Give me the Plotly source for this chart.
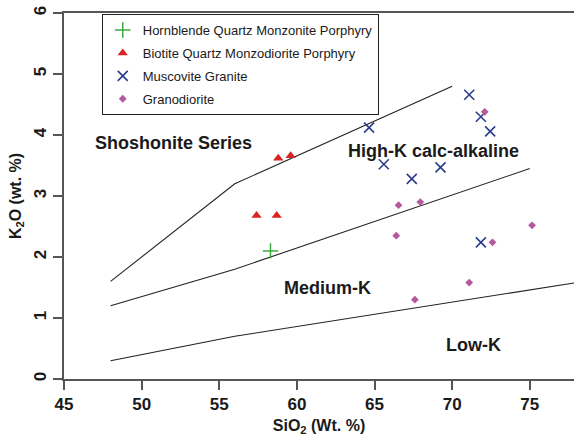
import plotly.graph_objects as go

# ---- data ----
hbl_sio2 = [58.3]
hbl_k2o = [2.10]

bt_sio2 = [57.4, 58.7, 58.8, 59.6]
bt_k2o = [2.68, 2.68, 3.62, 3.66]

ms_sio2 = [71.1, 71.85, 72.45, 64.65, 65.6, 67.4, 69.25, 71.85]
ms_k2o = [4.66, 4.30, 4.06, 4.12, 3.52, 3.28, 3.47, 2.24]

gd_sio2 = [72.1, 66.55, 67.95, 66.4, 75.15, 72.6, 71.1, 67.6]
gd_k2o = [4.38, 2.85, 2.90, 2.35, 2.52, 2.24, 1.58, 1.30]

# boundary lines
sho_x = [48, 56, 70]
sho_y = [1.6, 3.2, 4.8]
hk_x = [48, 56, 75]
hk_y = [1.2, 1.8, 3.45]
lk_x = [48, 56, 78]
lk_y = [0.3, 0.7, 1.58]

labels = ["Shoshonite Series", "High-K calc-alkaline", "Medium-K", "Low-K"]
label_x = [52.05, 68.8, 61.95, 71.35]
label_y = [3.87, 3.74, 1.50, 0.55]

xticks = [45, 50, 55, 60, 65, 70, 75]
yticks = [0, 1, 2, 3, 4, 5, 6]

FONT = "Liberation Sans, Arial, sans-serif"

fig = go.Figure()
for bx, by in [(sho_x, sho_y), (hk_x, hk_y), (lk_x, lk_y)]:
    fig.add_trace(go.Scatter(x=bx, y=by, mode="lines", showlegend=False,
                             line=dict(color="#222222", width=1.1), hoverinfo="skip"))

fig.add_trace(go.Scatter(x=hbl_sio2, y=hbl_k2o, mode="markers", legendgroup="a",
                         name="Hornblende Quartz Monzonite Porphyry",
                         marker=dict(symbol="cross-thin", size=11,
                                     line=dict(color="#3DAA3D", width=1.5))))
fig.add_trace(go.Scatter(x=bt_sio2, y=bt_k2o, mode="markers", legendgroup="b",
                         name="Biotite Quartz Monzodiorite Porphyry",
                         marker=dict(symbol="triangle-up", size=9, color="#D82424")))
fig.add_trace(go.Scatter(x=ms_sio2, y=ms_k2o, mode="markers", legendgroup="c",
                         name="Muscovite Granite",
                         marker=dict(symbol="x-thin", size=10,
                                     line=dict(color="#2B3C8C", width=1.6))))
fig.add_trace(go.Scatter(x=gd_sio2, y=gd_k2o, mode="markers", legendgroup="d",
                         name="Granodiorite",
                         marker=dict(symbol="diamond", size=6, color="#B45A9C")))

for t, lx, ly in zip(labels, label_x, label_y):
    fig.add_annotation(x=lx, y=ly, text=t, showarrow=False,
                       font=dict(family=FONT, size=18, color="#1a1a1a", weight="bold"))

fig.update_layout(
    width=574, height=436,
    margin=dict(l=64, r=0, t=13, b=57),
    paper_bgcolor="white", plot_bgcolor="white",
    font=dict(family=FONT, color="#1a1a1a"),
    legend=dict(x=0.074, y=0.997, xanchor="left", yanchor="top",
                bordercolor="#222222", borderwidth=1, bgcolor="white",
                font=dict(family=FONT, size=13, color="#1a1a1a"),
                tracegroupgap=3, itemwidth=30),
    xaxis=dict(range=[45, 77.85], tickvals=xticks,
               showgrid=False, zeroline=False, showline=True,
               linecolor="#555555", linewidth=1.5, mirror=True,
               ticks="outside", ticklen=9, tickcolor="#555555", tickwidth=1.5,
               tickfont=dict(size=17, family=FONT, weight="bold"),
               title=dict(text="SiO<sub>2</sub> (Wt. %)", standoff=8,
                          font=dict(size=16, family=FONT, weight="bold"))),
    yaxis=dict(range=[0, 6], tickvals=yticks,
               showgrid=False, zeroline=False, showline=True,
               linecolor="#555555", linewidth=1.5,
               ticks="outside", ticklen=9, tickcolor="#555555", tickwidth=1.5,
               tickangle=-90,
               tickfont=dict(size=17, family=FONT, weight="bold"),
               title=dict(text="K<sub>2</sub>O (wt. %)", standoff=6,
                          font=dict(size=16, family=FONT, weight="bold"))),
)

fig.write_html("out.html")
